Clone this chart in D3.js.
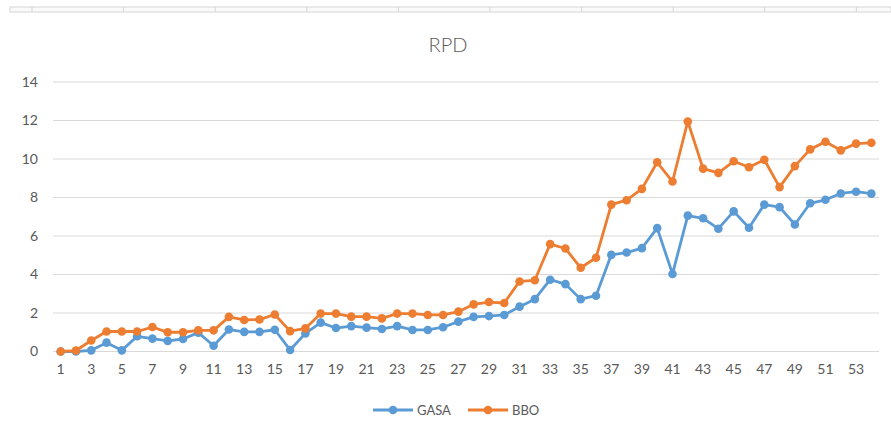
<!DOCTYPE html>
<html>
<head>
<meta charset="utf-8">
<script src="https://cdn.jsdelivr.net/npm/d3@7"></script>
<style>
  body { margin: 0; background: #fff; }
  svg text { font-family: Lato, "Open Sans", "Liberation Sans", sans-serif; fill: #595959; }
</style>
</head>
<body>
<div id="chart"></div>
<script>
// Data
var categories = d3.range(1, 55);
var gasa = [0, 0, 0.06, 0.46, 0.06, 0.79, 0.67, 0.55, 0.65, 0.98,
  0.3, 1.14, 1.02, 1.02, 1.13, 0.08, 0.94, 1.5, 1.22, 1.32,
  1.24, 1.17, 1.32, 1.12, 1.12, 1.26, 1.55, 1.8, 1.84, 1.9,
  2.33, 2.72, 3.73, 3.5, 2.72, 2.9, 5.02, 5.14, 5.37, 6.41,
  4.03, 7.06, 6.92, 6.38, 7.28, 6.43, 7.63, 7.5, 6.6, 7.7,
  7.88, 8.21, 8.3, 8.2];
var bbo = [0, 0.05, 0.57, 1.04, 1.04, 1.04, 1.27, 1.0, 1.0, 1.1,
  1.1, 1.8, 1.64, 1.66, 1.92, 1.06, 1.2, 1.97, 1.97, 1.81,
  1.81, 1.72, 1.97, 1.97, 1.9, 1.9, 2.07, 2.45, 2.57, 2.52,
  3.64, 3.7, 5.58, 5.35, 4.35, 4.87, 7.63, 7.86, 8.45, 9.83,
  8.83, 11.95, 9.5, 9.28, 9.88, 9.57, 9.96, 8.54, 9.63, 10.5,
  10.9, 10.45, 10.8, 10.84];
var yTicks = [0, 2, 4, 6, 8, 10, 12, 14];
var seriesNames = ["GASA", "BBO"];
var seriesColors = ["#5B9BD5", "#ED7D31"];

var W = 891, H = 435;
var svg = d3.select("#chart").append("svg")
  .attr("width", W)
  .attr("height", H);

// spreadsheet strip peeking in at the top
var colEdges = d3.range(32, W, 91.6);
svg.append("rect")
  .attr("x", 10).attr("y", 7).attr("width", W - 10).attr("height", 5)
  .attr("fill", "#fafafa").attr("stroke", "#d6d6d6").attr("stroke-width", 1);
svg.selectAll(".colEdge")
  .data(colEdges)
  .enter().append("line")
  .attr("class", "colEdge")
  .attr("x1", function (d) { return d; }).attr("x2", function (d) { return d; })
  .attr("y1", 7).attr("y2", 12)
  .attr("stroke", "#d6d6d6");

// scales
var x = d3.scaleBand()
  .domain(categories)
  .range([53, 879]);
var cx = function (c) { return x(c) + x.bandwidth() / 2; };
var y = d3.scaleLinear()
  .domain([0, 14])
  .range([351.5, 82]);

// gridlines
svg.append("g")
  .selectAll("line")
  .data(yTicks)
  .enter().append("line")
  .attr("x1", 53).attr("x2", 879)
  .attr("y1", function (d) { return y(d); })
  .attr("y2", function (d) { return y(d); })
  .attr("stroke", "#D9D9D9")
  .attr("stroke-width", 1);

// Y axis labels
var yAxis = svg.append("g")
  .attr("transform", "translate(53,0)")
  .call(d3.axisLeft(y).tickValues(yTicks).tickSize(0).tickPadding(15));
yAxis.select(".domain").remove();
yAxis.selectAll("text").style("font-size", "14px").attr("fill", "#595959");

// X axis labels, every other category
var xAxis = svg.append("g")
  .attr("transform", "translate(0," + y(0) + ")")
  .call(d3.axisBottom(x)
    .tickValues(categories.filter(function (c) { return c % 2 === 1; }))
    .tickSize(0).tickPadding(13));
xAxis.select(".domain").remove();
xAxis.selectAll("text").style("font-size", "14px").attr("fill", "#595959");

// title
svg.append("text")
  .attr("x", 448)
  .attr("y", 52)
  .attr("text-anchor", "middle")
  .style("font-size", "20px")
  .style("font-weight", "300")
  .text("RPD");

// series
var line = d3.line()
  .x(function (d, i) { return cx(categories[i]); })
  .y(function (d) { return y(d); });

[gasa, bbo].forEach(function (vals, s) {
  var g = svg.append("g");
  g.append("path")
    .datum(vals)
    .attr("d", line)
    .attr("fill", "none")
    .attr("stroke", seriesColors[s])
    .attr("stroke-width", 2.8)
    .attr("stroke-linejoin", "round");
  g.selectAll("circle")
    .data(vals)
    .enter().append("circle")
    .attr("cx", function (d, i) { return cx(categories[i]); })
    .attr("cy", function (d) { return y(d); })
    .attr("r", 4.3)
    .attr("fill", seriesColors[s]);
});

// legend
var legend = svg.append("g")
  .selectAll("g")
  .data(seriesNames)
  .enter().append("g")
  .attr("transform", function (d, i) { return "translate(" + (373 + i * 95) + ",410)"; });
legend.append("line")
  .attr("x1", 0).attr("x2", 40)
  .attr("stroke", function (d, i) { return seriesColors[i]; })
  .attr("stroke-width", 2.8);
legend.append("circle")
  .attr("cx", 20).attr("r", 4.3)
  .attr("fill", function (d, i) { return seriesColors[i]; });
legend.append("text")
  .attr("x", 44)
  .attr("dy", "0.35em")
  .style("font-size", "13px")
  .text(function (d) { return d; });
</script>
</body>
</html>
